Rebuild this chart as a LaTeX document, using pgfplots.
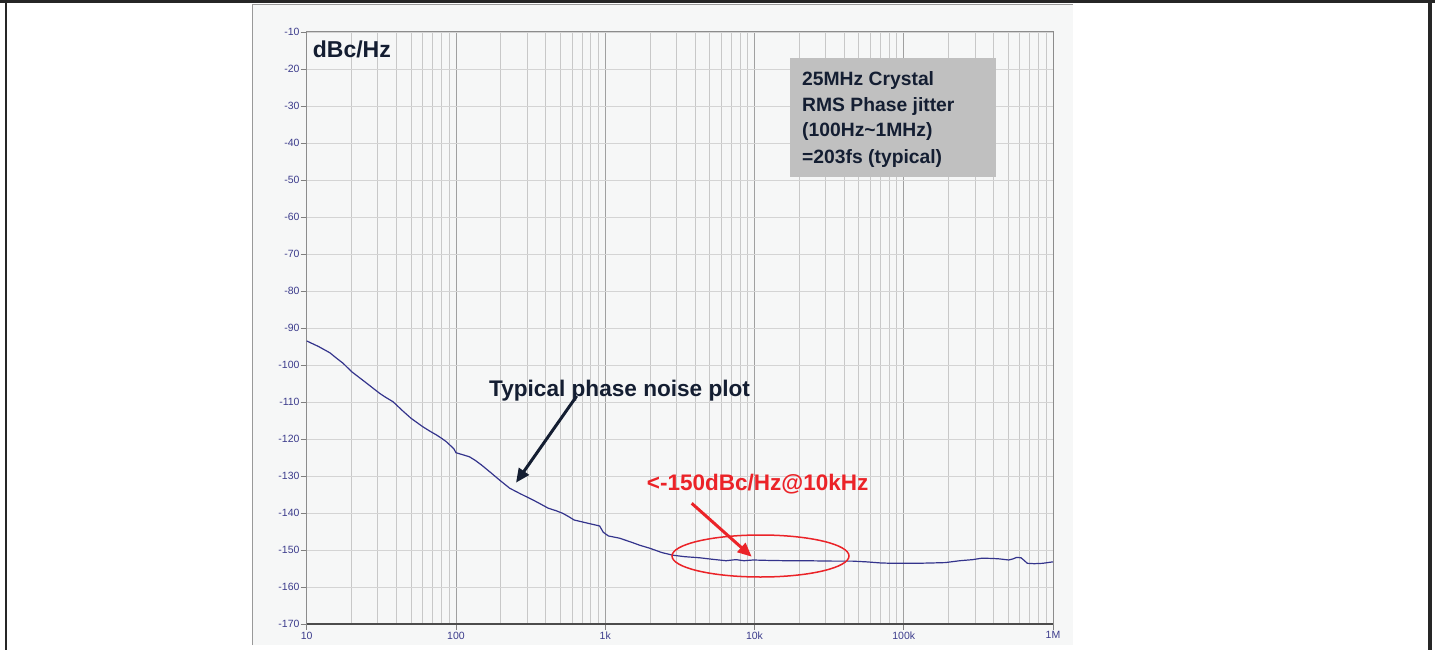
\documentclass[border=0pt]{standalone}
\usepackage{pgfplots}
\pgfplotsset{compat=1.18}
\usepackage{fontspec}
\setmainfont{Liberation Sans}
\usetikzlibrary{arrows.meta}
\definecolor{panelbg}{RGB}{246,247,247}
\definecolor{curve}{RGB}{52,52,140}
\definecolor{ticklab}{RGB}{60,60,140}
\definecolor{annot}{RGB}{20,30,50}
\definecolor{boxgray}{RGB}{192,192,192}
\definecolor{myred}{RGB}{235,35,40}
\definecolor{gmaj}{RGB}{160,160,160}
\definecolor{gmin}{RGB}{200,200,200}
\definecolor{gy}{RGB}{212,212,212}
\begin{document}
\begin{tikzpicture}[x=1pt,y=1pt]
\useasboundingbox (0,0) rectangle (1435,-650);
% panel
\fill[panelbg] (252,-5) rectangle (1073,-645);
\draw[color=gray!80,line width=1pt] (252,-645) -- (252,-5) -- (1073,-5);
% outer frame
\draw[color=black!85,line width=3pt] (0,-1.5) -- (1435,-1.5);
\draw[color=black!85,line width=2.5pt] (6.2,0) -- (6.2,-650);
\draw[color=black!85,line width=3.5pt] (1430.2,0) -- (1430.2,-650);
\begin{axis}[
  at={(306.7pt,-624pt)}, anchor=south west,
  scale only axis, width=746.3pt, height=592pt,
  xmode=log, log basis x=10,
  xmin=10, xmax=1000000, ymin=-170, ymax=-10,
  xtick={10,100,1000,10000,100000,1000000},
  xticklabels={10,100,1k,10k,100k,1M},
  minor xtick={20,30,40,50,60,70,80,90,200,300,400,500,600,700,800,900,2000,3000,4000,5000,6000,7000,8000,9000,20000,30000,40000,50000,60000,70000,80000,90000,200000,300000,400000,500000,600000,700000,800000,900000},
  ytick={-170,-160,-150,-140,-130,-120,-110,-100,-90,-80,-70,-60,-50,-40,-30,-20,-10},
  yticklabels={-170,-160,-150,-140,-130,-120,-110,-100,-90,-80,-70,-60,-50,-40,-30,-20,-10},
  xmajorgrids, xminorgrids, ymajorgrids,
  major x grid style={color=gmaj, line width=0.9pt},
  minor x grid style={color=gmin, line width=0.9pt},
  major y grid style={color=gy, line width=0.9pt},
  tick align=outside, major tick length=6pt, minor tick length=0pt,
  xtick pos=bottom, ytick pos=left,
  major tick style={color=gray, line width=0.8pt},
  axis line style={color=gray!90, line width=1pt},
  tick label style={color=ticklab, font=\fontsize{10.5}{11}\selectfont},
  yticklabel style={inner sep=1pt},
  xticklabel style={inner sep=1.5pt},
]
\addplot[color=curve, line width=1.2pt] coordinates {
(10,-93.5) (12,-95.0) (14.3,-96.7) (16,-98.3) (17.5,-99.5) (20,-101.8) (25,-104.8) (30.9,-107.7) (34,-108.8) (37.8,-109.9) (44,-112.4) (50,-114.4) (55,-115.6) (60,-116.7) (67,-117.9) (74,-118.9) (80,-119.8) (86,-120.7) (92,-121.8) (97,-122.7) (100,-123.7) (110,-124.2) (123,-124.8) (135,-125.8) (148,-127) (170,-129.0) (196,-131.1) (229,-133.3) (270,-134.8) (329,-136.5) (370,-137.6) (415,-138.7) (470,-139.4) (520,-140.1) (570,-141.0) (620,-141.9) (700,-142.4) (790,-142.9) (917,-143.5) (970,-145.2) (1050,-146.2) (1245,-146.8) (1500,-147.9) (1700,-148.7) (1980,-149.5) (2400,-150.7) (2835,-151.4) (3400,-151.8) (4290,-152.1) (5200,-152.5) (6450,-152.9) (7500,-152.6) (8500,-152.9) (9800,-152.7) (12000,-152.8) (16500,-152.9) (22000,-152.9) (33000,-153.0) (45000,-153.0) (56000,-153.2) (70000,-153.5) (85000,-153.6) (120000,-153.6) (156000,-153.5) (190000,-153.4) (237000,-152.9) (290000,-152.6) (335000,-152.2) (400000,-152.3) (437000,-152.4) (505000,-152.7) (540000,-152.4) (570000,-152.0) (610000,-152.1) (640000,-152.8) (673000,-153.6) (750000,-153.7) (850000,-153.6) (1000000,-153.2)
};
\end{axis}
\draw[color=gray!60!black, line width=1.8pt] (306.7,-624) -- (1053,-624);
% annotations
\node[anchor=base west, inner sep=0, text=annot, font=\fontsize{23}{27}\selectfont\bfseries] at (312.7,-57.3) {dBc/Hz};
\fill[boxgray] (790,-58) rectangle (996,-177);
\begin{scope}[every node/.style={anchor=base west, inner sep=0, text=annot, font=\fontsize{19.3}{22}\selectfont\bfseries}]
\node at (802,-86) {25MHz Crystal};
\node at (802,-111.7) {RMS Phase jitter};
\node at (802,-136.7) {(100Hz\textasciitilde 1MHz)};
\node at (802,-164) {=203fs (typical)};
\end{scope}
\node[anchor=base west, inner sep=0, text=annot, font=\fontsize{22.6}{26}\selectfont\bfseries] at (489,-396) {Typical phase noise plot};
\draw[color=annot, line width=3pt, -{Triangle[length=14pt,width=12pt]}] (576.7,-396) -- (516,-482.7);
\node[anchor=base west, inner sep=0, text=myred, font=\fontsize{22.5}{26}\selectfont\bfseries] at (646.7,-490) {<-150dBc/Hz@10kHz};
\draw[color=myred, line width=3pt, -{Triangle[length=14pt,width=12pt]}] (691.7,-503.3) -- (751.7,-556.7);
\draw[color=myred, line width=1.5pt] (760.5,-556) ellipse [x radius=88.5, y radius=21];
\end{tikzpicture}
\end{document}
